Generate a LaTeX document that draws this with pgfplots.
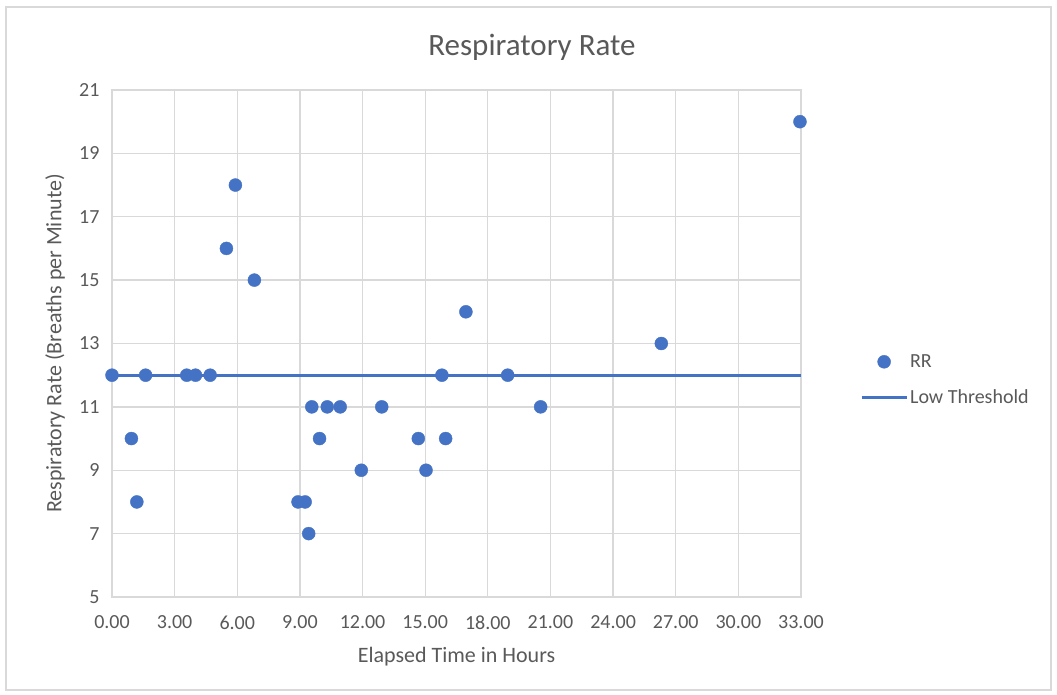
\documentclass[border=0pt]{standalone}
\usepackage{fontspec}
\setmainfont{Carlito}
\usepackage{pgfplots}
\pgfplotsset{compat=1.18}
\definecolor{txt}{HTML}{595959}
\definecolor{grd}{HTML}{D9D9D9}
\definecolor{blu}{HTML}{4472C4}
\begin{document}
\begin{tikzpicture}[x=1bp,y=1bp]
\path[use as bounding box] (0,0) rectangle (1057,695);
\draw[grd, line width=1.2bp] (6,5) rectangle (1051,688);
\node[txt, font=\fontsize{31bp}{36bp}\selectfont] at (532,648) {Respiratory Rate};
\begin{axis}[at={(112bp,98bp)}, anchor=south west, scale only axis,
  width=689bp, height=507bp,
  xmin=0, xmax=33, ymin=5, ymax=21,
  xtick={0,3,...,33}, ytick={5,7,...,21},
  grid=major, major grid style={grd, line width=1.3bp},
  axis line style={grd, line width=1.3bp},
  major tick length=0pt,
  clip=false,
  /pgf/number format/assume math mode=true,
  ticklabel style={txt, font=\fontsize{20bp}{24bp}\selectfont},
  xticklabel={\pgfmathprintnumber[fixed,fixed zerofill,precision=2]{\tick}},
  yticklabel style={xshift=-9bp},
  xticklabel style={yshift=-15bp},
  xlabel={Elapsed Time in Hours},
  ylabel={Respiratory Rate (Breaths per Minute)},
  label style={txt, font=\fontsize{22bp}{26bp}\selectfont},
  xlabel style={at={(axis description cs:0.5,-0.118)}, anchor=center},
  ylabel style={at={(axis description cs:-0.0827,0.5)}, anchor=center},
  legend style={at={(axis description cs:1.0855,0.428)}, anchor=west,
    draw=none, fill=none, inner sep=0pt, row sep=17bp,
    font=\fontsize{20bp}{24bp}\selectfont, text=txt},
  legend cell align=left,
]
\addplot[only marks, mark=*, mark size=6.5bp, color=blu, mark options={draw=blu, fill=blu},
  legend image code/.code={\fill[blu] (22.5bp,0bp) circle[radius=6.5bp];}]
coordinates {
(0,12) (0.93,10) (1.19,8) (1.61,12) (3.58,12) (4.0,12) (4.70,12)
(5.48,16) (5.91,18) (6.82,15) (8.91,8) (9.25,8) (9.42,7) (9.57,11)
(9.94,10) (10.31,11) (10.93,11) (11.94,9) (12.92,11) (14.67,10)
(15.04,9) (15.80,12) (15.98,10) (16.95,14) (18.95,12) (20.53,11)
(26.31,13) (32.95,20)
};
\addlegendentry{RR}
\addplot[blu, line width=3bp, no marks,
  legend image code/.code={\draw[blu, line width=3bp] (0bp,0bp) -- (45bp,0bp);}]
coordinates {(0,12) (33,12)};
\addlegendentry{Low Threshold}
\end{axis}
\end{tikzpicture}
\end{document}
